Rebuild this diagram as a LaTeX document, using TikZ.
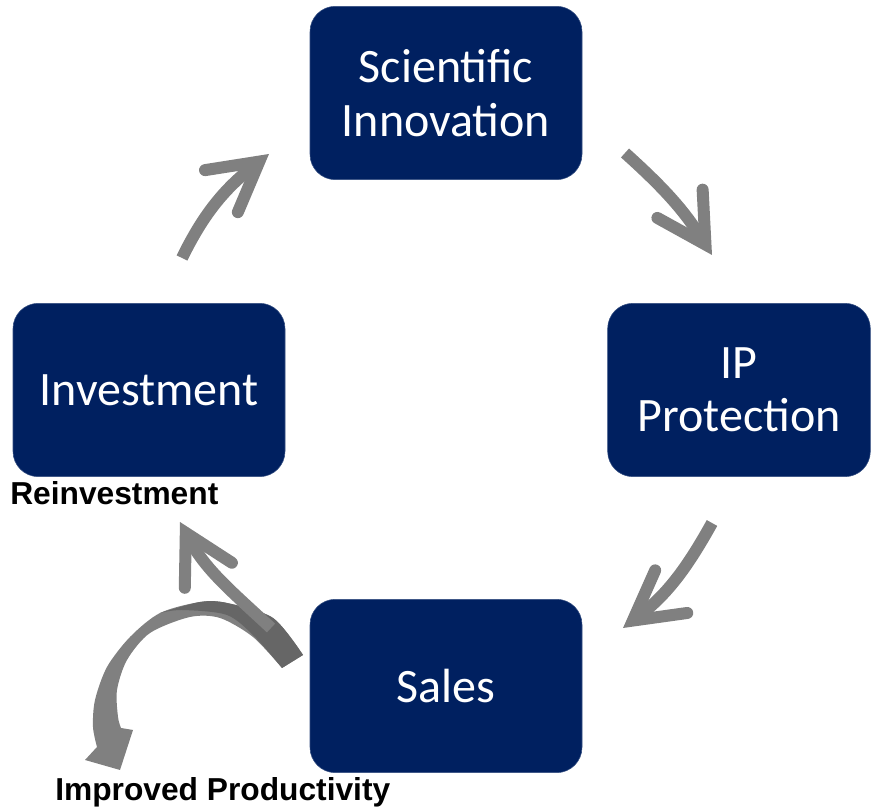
\documentclass[tikz,border=0pt]{standalone}
\usepackage{fontspec}
\setmainfont{Carlito}
\newfontfamily\labelfont{Liberation Sans}
\usetikzlibrary{arrows.meta}

\definecolor{navy}{RGB}{0,32,96}
\definecolor{arrowgray}{RGB}{128,128,128}
\definecolor{ribbondark}{RGB}{102,102,102}

\tikzset{
  cycle/.style={
    x=0.75pt, y=0.75pt,
    box/.style={
        rounded corners=19pt,
        fill=navy,
        draw=navy!80!white,
        text=white,
        minimum width=204pt,
        minimum height=130pt,
        align=center,
        inner sep=2pt,
        font=\fontsize{36}{40}\selectfont,
    },
    flow/.style={
        draw=arrowgray,
        line width=9pt,
        -{Straight Barb[length=36pt,width=40pt,line cap=round,line join=miter]},
    },
    lbl/.style={font=\labelfont\bfseries\fontsize{23.8}{27}\selectfont, inner sep=0pt}
  }
}

\begin{document}
\begin{tikzpicture}[cycle]
        \useasboundingbox (0,0) rectangle (871,809);
        % the four stages
        \node[box] (innov) at (446,716) {Scientific\\Innovation};
        \node[box, minimum width=197pt] (ipprot) at (739,419) {IP\\Protection};
        \node[box] (invest) at (149,419) {Investment};
        \node[box] (sales) at (446,123) {Sales};
        % free ends of the arrows
        \coordinate (a1) at (182,551);
        \coordinate (b1) at (269,655);
        \coordinate (a2) at (625,656);
        \coordinate (b2) at (712,554);
        \coordinate (a3) at (712,286);
        \coordinate (b3) at (623,181);
        \coordinate (a4) at (271,181);
        \coordinate (b4) at (180,287);
        % ribbon arrow
        \fill[arrowgray] plot[smooth] coordinates {(303,154) (273,191) (227,206) (200,207)
            (160,196) (130,172) (107,142) (95,109) (93,82) (97,62)}
            -- (85,49) -- (120,39) -- (133,79)
            -- plot[smooth] coordinates {(121,81) (118,92) (117,119) (127,149) (150,176)
            (190,192) (220,191) (253,172) (282,141)} -- cycle;
        \fill[ribbondark] plot[smooth] coordinates {(303,154) (273,191) (227,206) (200,207) (160,196)}
            -- plot[smooth] coordinates {(160,196) (182,199) (227,194) (255,172) (282,141)} -- cycle;
        % cycle arrows
        \draw[flow] (a1) to[out=64, in=218] (b1);
        \draw[flow] (a2) to[out=-42, in=122] (b2);
        \draw[flow] (a3) to[out=241, in=37] (b3);
        \draw[flow] (a4) to[out=137, in=298] (b4);
        % labels
        \node[lbl, anchor=base west] (reinv) at (10,304) {Reinvestment};
        \node[lbl, anchor=base west] (improv) at (55,8) {Improved Productivity};
\end{tikzpicture}
\end{document}
